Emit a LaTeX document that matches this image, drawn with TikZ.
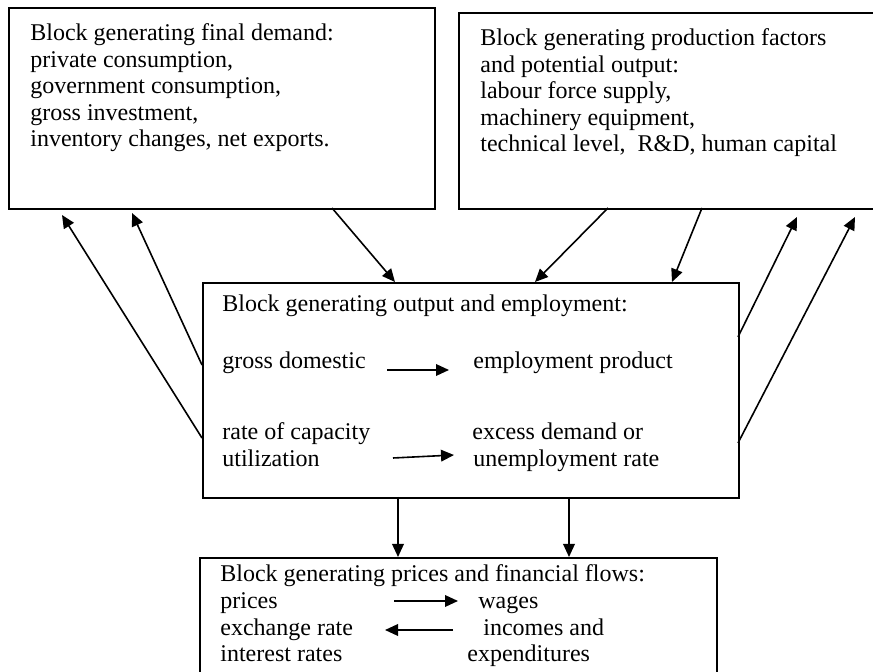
\documentclass[tikz,border=0pt]{standalone}
\usepackage{fontspec}
\setmainfont{Liberation Serif}
\usetikzlibrary{arrows.meta}
\tikzset{
  box/.style={draw, line width=1pt, inner sep=0pt, anchor=north west},
  txt/.style={anchor=base west, inner sep=0pt, font=\fontsize{12pt}{13.4pt}\selectfont},
  arr/.style={-{Triangle[length=6.5pt,width=5.8pt]}, line width=0.8pt},
}
\begin{document}
\begin{tikzpicture}[x=0.5pt,y=-0.5pt]
\useasboundingbox (0,0) rectangle (873,672);
\clip (0,0) rectangle (873,672);
% boxes
\node[box, minimum width=213pt, minimum height=100.5pt] (fd) at (8,7) {};
\node[box, minimum width=216pt, minimum height=98pt] (pf) at (458,12) {};
\node[box, minimum width=268pt, minimum height=107.5pt] (oe) at (202,282) {};
\node[box, minimum width=258.5pt, minimum height=66.5pt] (pr) at (199,557) {};
% box 1 text
\node[txt] (fd1) at (30,41) {Block generating final demand:};
\node[txt] (fd2) at (30,67.5) {private consumption,};
\node[txt] (fd3) at (30,94) {government consumption,};
\node[txt] (fd4) at (30,120.5) {gross investment,};
\node[txt] (fd5) at (30,147) {inventory changes, net exports.};
% box 2 text
\node[txt] (pf1) at (480,46) {Block generating production factors};
\node[txt] (pf2) at (480,72.5) {and potential output:};
\node[txt] (pf3) at (480,99) {labour force supply,};
\node[txt] (pf4) at (480,125.5) {machinery equipment,};
\node[txt] (pf5) at (480,152) {technical level,\ \ R\&D, human capital};
% middle box text
\node[txt] (oe1) at (222,312) {Block generating output and employment:};
\node[txt] (gd) at (222,369) {gross domestic};
\node[txt] (ep) at (473,369) {employment product};
\node[txt] (rc) at (222,440) {rate of capacity};
\node[txt] (ut) at (222,467) {utilization};
\node[txt] (ed) at (472,440) {excess demand or};
\node[txt] (ur) at (473,467) {unemployment rate};
% lower box text
\node[txt] (pr1) at (220,582) {Block generating prices and financial flows:};
\node[txt] (pc) at (220,608.7) {prices};
\node[txt] (wg) at (478,608.7) {wages};
\node[txt] (ex) at (220,635.4) {exchange rate};
\node[txt] (ic) at (483,635.4) {incomes and};
\node[txt] (ir) at (220,662) {interest rates};
\node[txt] (xp) at (467,662) {expenditures};
% connector end points
\coordinate (a1s) at (202,438); \coordinate (a1e) at (62,215);
\coordinate (a2s) at (202,365); \coordinate (a2e) at (132,213);
\coordinate (a3s) at (332,208); \coordinate (a3e) at (395,282);
\coordinate (a4s) at (608,208); \coordinate (a4e) at (535,282);
\coordinate (a5s) at (702,208); \coordinate (a5e) at (672,282);
\coordinate (a6s) at (738,337); \coordinate (a6e) at (797,217);
\coordinate (a7s) at (738,443); \coordinate (a7e) at (855,217);
\coordinate (d1s) at (398,497); \coordinate (d1e) at (398,557);
\coordinate (d2s) at (569,497); \coordinate (d2e) at (569,557);
\coordinate (i1s) at (387,370); \coordinate (i1e) at (449,370);
\coordinate (i2s) at (393,458); \coordinate (i2e) at (454,455);
\coordinate (l1s) at (394,601); \coordinate (l1e) at (458,601);
\coordinate (l2s) at (453,630); \coordinate (l2e) at (385,630);
% connectors
\foreach \s/\e in {a1s/a1e,a2s/a2e,a3s/a3e,a4s/a4e,a5s/a5e,a6s/a6e,a7s/a7e,d1s/d1e,d2s/d2e,i1s/i1e,i2s/i2e,l1s/l1e,l2s/l2e}
  \draw[arr] (\s) -- (\e);
\end{tikzpicture}
\end{document}
